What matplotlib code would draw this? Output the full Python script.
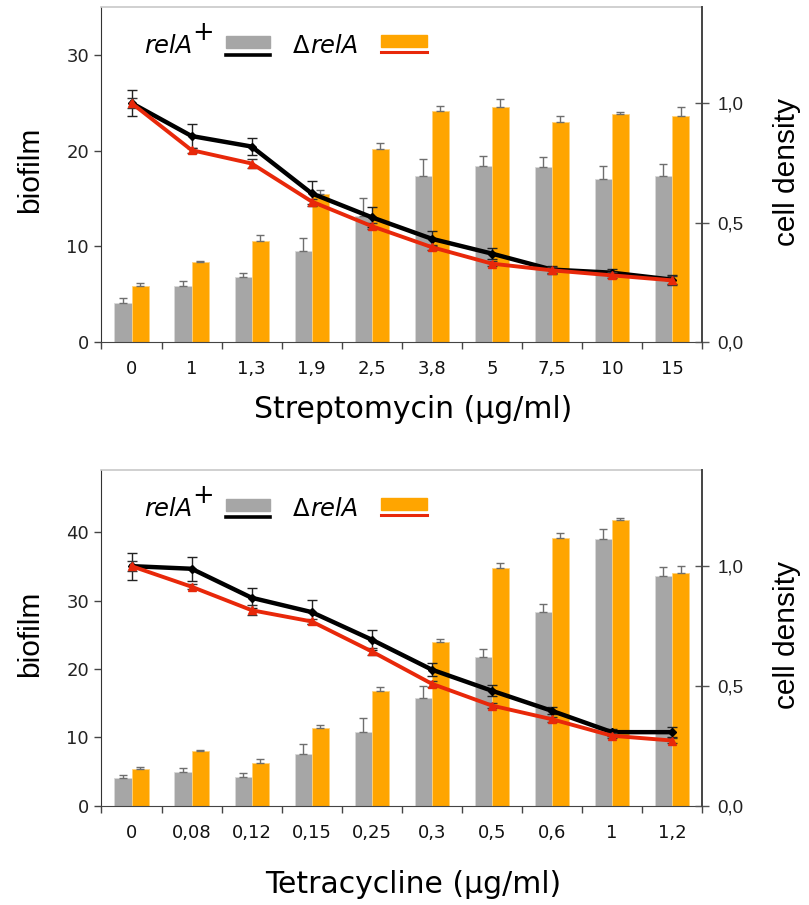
import matplotlib
matplotlib.use("Agg")
import matplotlib.pyplot as plt
import numpy as np

# ---------------- data ----------------
strep_labels = ["0", "1", "1,3", "1,9", "2,5", "3,8", "5", "7,5", "10", "15"]
strep_biofilm_wt = [4.1, 5.9, 6.8, 9.5, 13.2, 17.4, 18.4, 18.3, 17.1, 17.4]
strep_biofilm_wt_err = [0.55, 0.45, 0.45, 1.4, 1.9, 1.8, 1.1, 1.05, 1.3, 1.25]
strep_biofilm_rel = [5.9, 8.4, 10.55, 15.5, 20.2, 24.15, 24.55, 23.0, 23.85, 23.65]
strep_biofilm_rel_err = [0.28, 0.12, 0.65, 0.45, 0.6, 0.55, 0.9, 0.6, 0.25, 0.95]
strep_density_wt = [1.0, 0.862, 0.818, 0.622, 0.522, 0.432, 0.37, 0.303, 0.29, 0.261]
strep_density_wt_err = [0.055, 0.05, 0.037, 0.053, 0.042, 0.032, 0.024, 0.015, 0.015, 0.02]
strep_density_rel = [1.0, 0.803, 0.747, 0.588, 0.485, 0.397, 0.328, 0.30, 0.279, 0.258]
strep_density_rel_err = [0.02, 0.01, 0.02, 0.01, 0.012, 0.01, 0.01, 0.015, 0.012, 0.02]

tet_labels = ["0", "0,08", "0,12", "0,15", "0,25", "0,3", "0,5", "0,6", "1", "1,2"]
tet_biofilm_wt = [4.06, 4.9, 4.25, 7.5, 10.75, 15.7, 21.8, 28.4, 39.05, 33.6]
tet_biofilm_wt_err = [0.44, 0.58, 0.5, 1.46, 2.15, 1.85, 1.2, 1.1, 1.5, 1.3]
tet_biofilm_rel = [5.37, 8.0, 6.2, 11.37, 16.8, 23.9, 34.75, 39.25, 41.85, 34.1]
tet_biofilm_rel_err = [0.25, 0.2, 0.7, 0.5, 0.58, 0.44, 0.83, 0.63, 0.2, 0.93]
tet_density_wt = [1.0, 0.989, 0.868, 0.808, 0.693, 0.568, 0.48, 0.396, 0.307, 0.307]
tet_density_wt_err = [0.056, 0.05, 0.042, 0.049, 0.042, 0.028, 0.022, 0.015, 0.015, 0.021]
tet_density_rel = [1.0, 0.914, 0.816, 0.769, 0.644, 0.509, 0.418, 0.361, 0.292, 0.272]
tet_density_rel_err = [0.02, 0.01, 0.02, 0.01, 0.015, 0.012, 0.01, 0.01, 0.01, 0.01]

GRAY = "#a6a6a6"
ORANGE = "#ffa500"
RED = "#e8280a"
W, H = 809, 905

fig = plt.figure(figsize=(W / 100, H / 100), dpi=100)


def panel(y_top, y_bot, labels, bw, bwe, br, bre, dw, dwe, dr, dre, ylim_left, yticks_left, xlabel, xlabel_y):
    left_px, right_px = 101.5, 702
    ax = fig.add_axes([left_px / W, 1 - y_bot / H, (right_px - left_px) / W, (y_bot - y_top) / H])
    n = len(labels)
    centers = np.arange(n) + 0.5
    bwid = 0.285
    ax.bar(centers - bwid / 2, bw, width=bwid, color=GRAY, edgecolor="#d9d9d9", linewidth=0.6, zorder=2)
    ax.bar(centers + bwid / 2, br, width=bwid, color=ORANGE, edgecolor="#ffd27a", linewidth=0.6, zorder=2)
    ax.errorbar(centers - bwid / 2, bw, yerr=[np.zeros(n), bwe], fmt="none", ecolor="#6e6e6e",
                elinewidth=1.0, capsize=3, capthick=1.0, zorder=3)
    ax.errorbar(centers + bwid / 2, br, yerr=[np.zeros(n), bre], fmt="none", ecolor="#6e6e6e",
                elinewidth=1.0, capsize=3, capthick=1.0, zorder=3)
    ax.set_xlim(0, n)
    ax.set_ylim(0, ylim_left)
    ax.set_yticks(yticks_left)
    ax.set_yticklabels([str(t) for t in yticks_left], fontsize=13, color="#222222")
    ax.set_xticks(np.arange(n + 1))
    ax.set_xticklabels([])
    ax.set_xticks(centers, minor=True)
    ax.set_xticklabels(labels, minor=True, fontsize=13, color="#111111")
    ax.tick_params(axis="x", which="minor", length=0, pad=13)
    ax.tick_params(axis="x", which="major", length=5, width=1, color="#444444", direction="out")
    ax.tick_params(axis="y", length=5, width=1, color="#444444", direction="out", pad=4)
    ax.spines["top"].set_color("#c8c8c8")
    ax.spines["top"].set_linewidth(1.2)
    ax.spines["left"].set_color("#333333")
    ax.spines["bottom"].set_color("#444444")
    ax.spines["right"].set_visible(False)

    ax2 = ax.twinx()
    ax2.set_ylim(0, 1.4)
    ax2.errorbar(centers, dw, yerr=dwe, color="black", lw=3.2, marker="D", ms=4, ecolor="#222222",
                 elinewidth=1.0, capsize=3.5, capthick=1.0, zorder=5)
    ax2.errorbar(centers, dr, yerr=dre, color=RED, lw=2.8, marker="^", ms=5.5, ecolor="#333333",
                 elinewidth=1.0, capsize=3.5, capthick=1.0, zorder=6)
    ax2.set_yticks([0.0, 0.5, 1.0])
    ax2.set_yticklabels(["0,0", "0,5", "1,0"], fontsize=13.5, family="Liberation Sans", color="#222222")
    ax2.tick_params(axis="y", length=10, width=1, color="#555555", direction="inout", pad=6)
    for s in ["top", "left", "bottom"]:
        ax2.spines[s].set_visible(False)
    ax2.spines["right"].set_color("#444444")
    ax2.spines["right"].set_linewidth(1.4)

    # y labels
    yc = 1 - (y_top + y_bot) / 2 / H
    fig.text(30 / W, yc + 0.005, "biofilm", rotation=90, ha="center", va="center",
             fontsize=21.5, family="Liberation Sans")
    fig.text(787 / W, yc + 0.003, "cell density", rotation=90, ha="center", va="center",
             fontsize=21.5, family="Liberation Sans")
    fig.text(413 / W, 1 - xlabel_y / H, xlabel, ha="center", va="center", fontsize=21.5)

    # legend
    base = y_top + 45.5
    fig.text(144 / W, 1 - base / H, "relA", fontsize=17.5, style="italic", ha="left", va="baseline")
    fig.text(192 / W, 1 - (base - 13) / H, "+", fontsize=18.5, ha="left", va="baseline")
    fig.text(293 / W, 1 - base / H, "Δ", fontsize=17.5, ha="left", va="baseline")
    fig.text(310 / W, 1 - base / H, "relA", fontsize=17.5, style="italic", ha="left", va="baseline")
    fig.patches.append(plt.Rectangle((226 / W, 1 - (y_top + 41) / H), 44 / W, 12 / H,
                                     transform=fig.transFigure, color=GRAY, figure=fig))
    fig.lines.append(plt.Line2D([226 / W, 270 / W], [1 - (y_top + 47) / H] * 2, color="black",
                                lw=2.6, transform=fig.transFigure, figure=fig))
    fig.patches.append(plt.Rectangle((381 / W, 1 - (y_top + 40) / H), 46 / W, 12 / H,
                                     transform=fig.transFigure, color=ORANGE, figure=fig))
    fig.lines.append(plt.Line2D([381 / W, 427 / W], [1 - (y_top + 45) / H] * 2, color=RED,
                                lw=2.2, transform=fig.transFigure, figure=fig))


panel(7.5, 342, strep_labels, strep_biofilm_wt, strep_biofilm_wt_err, strep_biofilm_rel,
      strep_biofilm_rel_err, strep_density_wt, strep_density_wt_err, strep_density_rel,
      strep_density_rel_err, 35, [0, 10, 20, 30], "Streptomycin (µg/ml)", 410)
panel(470.3, 805.7, tet_labels, tet_biofilm_wt, tet_biofilm_wt_err, tet_biofilm_rel,
      tet_biofilm_rel_err, tet_density_wt, tet_density_wt_err, tet_density_rel,
      tet_density_rel_err, 49.1, [0, 10, 20, 30, 40], "Tetracycline (µg/ml)", 884)

fig.savefig("out.png", dpi=100)
